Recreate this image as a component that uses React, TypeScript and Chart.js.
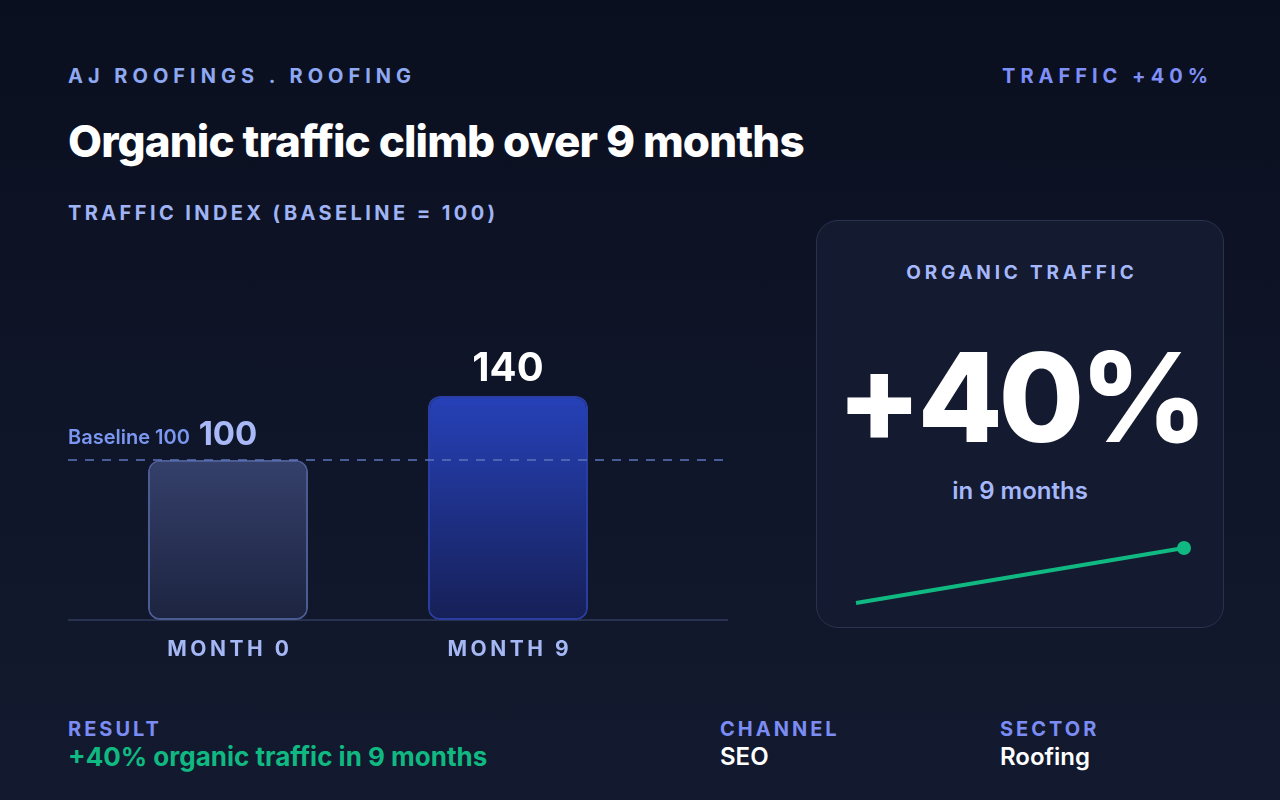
import React, { useEffect, useRef } from "react";
import { Chart, registerables } from "chart.js";

Chart.register(...registerables);

const categories = ["MONTH 0", "MONTH 9"];
const trafficIndex = [100, 140];
const baselineValue = 100;
const sparkLabels = ["Month 0", "Month 9"];
const sparkValues = [100, 140];

const FONT = "Inter, 'Noto Sans', sans-serif";

export default function App() {
  const barRef = useRef<HTMLCanvasElement | null>(null);
  const sparkRef = useRef<HTMLCanvasElement | null>(null);

  useEffect(() => {
    document.body.style.margin = "0";
    const barCanvas = barRef.current!;
    const sparkCanvas = sparkRef.current!;

    const overlay = {
      id: "overlay",
      beforeDatasetsDraw(chart: any) {
        const { ctx } = chart;
        const y0 = chart.scales.y.getPixelForValue(0);
        ctx.save();
        ctx.strokeStyle = "#28314d";
        ctx.lineWidth = 2;
        ctx.beginPath();
        ctx.moveTo(20, y0);
        ctx.lineTo(680, y0);
        ctx.stroke();
        ctx.restore();
      },
      afterDatasetsDraw(chart: any) {
        const { ctx } = chart;
        const yScale = chart.scales.y;
        const xScale = chart.scales.x;
        const yb = yScale.getPixelForValue(baselineValue);
        ctx.save();
        ctx.strokeStyle = "rgba(92,116,190,0.75)";
        ctx.lineWidth = 2;
        ctx.setLineDash([9, 8]);
        ctx.beginPath();
        ctx.moveTo(20, yb);
        ctx.lineTo(680, yb);
        ctx.stroke();
        ctx.setLineDash([]);

        ctx.font = `600 20px ${FONT}`;
        ctx.fillStyle = "#7b97f2";
        ctx.textAlign = "left";
        ctx.textBaseline = "alphabetic";
        ctx.fillText(`Baseline ${baselineValue}`, 20, yb - 16);

        trafficIndex.forEach((v, i) => {
          const x = xScale.getPixelForValue(i);
          const y = yScale.getPixelForValue(v);
          ctx.textAlign = "center";
          if (i === 0) {
            ctx.font = `700 33px ${FONT}`;
            ctx.fillStyle = "#a9b9f7";
            ctx.fillText(String(v), x, y - 15);
          } else {
            ctx.font = `700 40px ${FONT}`;
            ctx.fillStyle = "#ffffff";
            ctx.fillText(String(v), x, y - 15.5);
          }
        });

        const y0 = yScale.getPixelForValue(0);
        ctx.font = `700 21px ${FONT}`;
        ctx.fillStyle = "#a5b8f5";
        (ctx as any).letterSpacing = "3.5px";
        categories.forEach((c, i) => {
          const x = xScale.getPixelForValue(i);
          ctx.textAlign = "center";
          ctx.fillText(c, x + 1.75, y0 + 35.5);
        });
        ctx.restore();
      },
    };

    const barChart = new Chart(barCanvas, {
      type: "bar",
      data: {
        labels: categories,
        datasets: [
          {
            data: trafficIndex,
            backgroundColor: (c: any) => {
              const { chart, dataIndex } = c;
              const area = chart.chartArea;
              if (!area) return "#2a3358";
              const yS = chart.scales.y;
              const top = yS.getPixelForValue(trafficIndex[dataIndex]);
              const bot = yS.getPixelForValue(0);
              const g = chart.ctx.createLinearGradient(0, top, 0, bot);
              if (dataIndex === 0) {
                g.addColorStop(0, "#35406b");
                g.addColorStop(1, "#1c2440");
              } else {
                g.addColorStop(0, "#2641b8");
                g.addColorStop(1, "#162057");
              }
              return g;
            },
            borderColor: ["#4c5b92", "#2a3da2"],
            borderWidth: 2,
            borderRadius: 12,
            borderSkipped: false,
            barPercentage: 160 / 280,
            categoryPercentage: 1,
          },
        ],
      },
      options: {
        animation: false,
        responsive: false,
        maintainAspectRatio: false,
        layout: { padding: { left: 40, right: 100, top: 20, bottom: 60 } },
        plugins: { legend: { display: false }, tooltip: { enabled: false } },
        scales: {
          x: { display: false },
          y: { display: false, min: 0, max: 187.5 },
        },
      },
      plugins: [overlay],
    });

    const sparkChart = new Chart(sparkCanvas, {
      type: "line",
      data: {
        labels: sparkLabels,
        datasets: [
          {
            data: sparkValues,
            borderColor: "#10b981",
            borderWidth: 4,
            pointRadius: [0, 7],
            pointBackgroundColor: "#10b981",
            pointBorderWidth: 0,
            tension: 0.3,
            clip: false as any,
          },
        ],
      },
      options: {
        animation: false,
        responsive: false,
        maintainAspectRatio: false,
        layout: { padding: { left: 20, right: 22, top: 18, bottom: 17 } },
        plugins: { legend: { display: false }, tooltip: { enabled: false } },
        scales: {
          x: { display: false },
          y: { display: false, min: 100, max: 140 },
        },
      },
    });

    return () => {
      barChart.destroy();
      sparkChart.destroy();
    };
  }, []);

  const abs = (o: React.CSSProperties): React.CSSProperties => ({
    position: "absolute",
    lineHeight: 1,
    whiteSpace: "nowrap",
    fontFamily: FONT,
    margin: 0,
    ...o,
  });

  return (
    <div
      style={{
        position: "fixed",
        left: 0,
        top: 0,
        width: 1280,
        height: 800,
        overflow: "hidden",
        background: "linear-gradient(180deg, #0a0f1f 0%, #0f1528 50%, #131a2f 100%)",
        fontFamily: FONT,
      }}
    >
      <div style={abs({ left: 68, top: 66, fontSize: 20, fontWeight: 700, letterSpacing: "5px", color: "#8fa8f2" })}>
        AJ ROOFINGS . ROOFING
      </div>
      <div style={abs({ right: 67, top: 66, fontSize: 20, fontWeight: 700, letterSpacing: "5px", color: "#7f8ff8" })}>
        TRAFFIC +40%
      </div>
      <div style={abs({ left: 68, top: 119, fontSize: 44, fontWeight: 800, letterSpacing: "-0.02em", color: "#ffffff" })}>
        Organic traffic climb over 9 months
      </div>
      <div style={abs({ left: 68, top: 203, fontSize: 20, fontWeight: 700, letterSpacing: "3.4px", color: "#a0b4f5" })}>
        TRAFFIC INDEX (BASELINE = 100)
      </div>

      <canvas
        ref={barRef}
        width={700}
        height={380}
        style={{ position: "absolute", left: 48, top: 300, width: 700, height: 380 }}
      />

      <div
        style={{
          position: "absolute",
          left: 816,
          top: 220,
          width: 408,
          height: 408,
          boxSizing: "border-box",
          borderRadius: 22,
          background: "#141a2f",
          border: "1.5px solid #29324f",
        }}
      />
      <div style={abs({ left: 816, width: 408, textAlign: "center", top: 263, fontSize: 19, fontWeight: 700, letterSpacing: "0.2em", color: "#a5b8fc", textIndent: "0.2em" })}>
        ORGANIC TRAFFIC
      </div>
      <div style={abs({ left: 816, width: 408, textAlign: "center", top: 335, fontSize: 124, fontWeight: 800, letterSpacing: "-0.035em", color: "#ffffff" })}>
        +40%
      </div>
      <div style={abs({ left: 816, width: 408, textAlign: "center", top: 479, fontSize: 24, fontWeight: 600, color: "#a5b8fc" })}>
        in 9 months
      </div>
      <canvas
        ref={sparkRef}
        width={370}
        height={90}
        style={{ position: "absolute", left: 836, top: 530, width: 370, height: 90 }}
      />

      <div style={abs({ left: 68, top: 719, fontSize: 20, fontWeight: 700, letterSpacing: "3px", color: "#7b8cf5" })}>
        RESULT
      </div>
      <div style={abs({ left: 68, top: 744, fontSize: 26, fontWeight: 700, color: "#10b981" })}>
        +40% organic traffic in 9 months
      </div>
      <div style={abs({ left: 720, top: 719, fontSize: 20, fontWeight: 700, letterSpacing: "3px", color: "#7b8cf5" })}>
        CHANNEL
      </div>
      <div style={abs({ left: 720, top: 745, fontSize: 24, fontWeight: 600, color: "#ffffff" })}>
        SEO
      </div>
      <div style={abs({ left: 1000, top: 719, fontSize: 20, fontWeight: 700, letterSpacing: "3px", color: "#7b8cf5" })}>
        SECTOR
      </div>
      <div style={abs({ left: 1000, top: 745, fontSize: 24, fontWeight: 600, color: "#ffffff" })}>
        Roofing
      </div>
    </div>
  );
}
